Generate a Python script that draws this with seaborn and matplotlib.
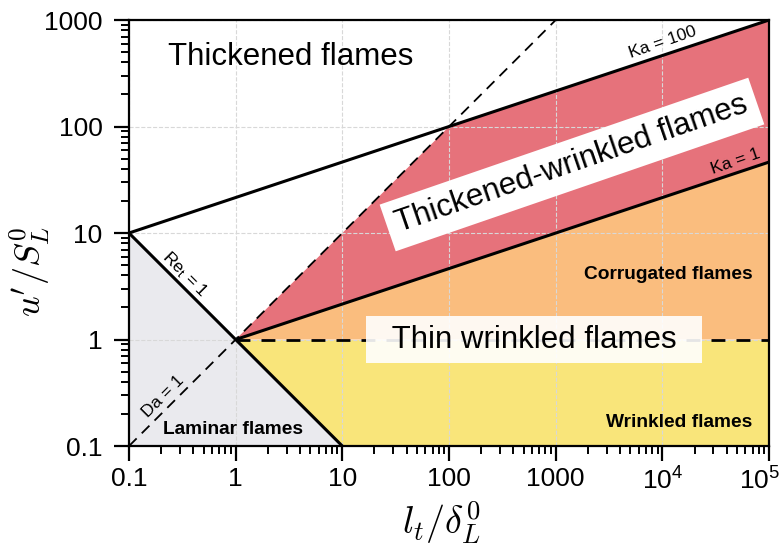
import matplotlib
matplotlib.use("Agg")
import matplotlib.pyplot as plt
import matplotlib.transforms as mtransforms
import seaborn as sns
from matplotlib.ticker import FixedLocator, FixedFormatter, NullFormatter

# boundary lines (l_t/delta_L, u'/S_L)
re1_x, re1_y = [0.1, 10], [10, 0.1]
ka100_x, ka100_y = [0.1, 1e5], [10, 1000]
ka1_x, ka1_y = [1, 1e5], [1, 46.4]
da1_x, da1_y = [0.1, 1000], [0.1, 1000]
unit_x, unit_y = [1, 1e5], [1, 1]

# regime regions (polygon corners)
laminar_x, laminar_y = [0.1, 0.1, 10], [0.1, 10, 0.1]
wrinkled_x, wrinkled_y = [1, 1e5, 1e5, 10], [1, 1, 0.1, 0.1]
corrugated_x, corrugated_y = [1, 1e5, 1e5], [1, 46.4, 1]
thick_wr_x, thick_wr_y = [1, 100, 1e5, 1e5], [1, 100, 1000, 46.4]

xticks = [0.1, 1, 10, 100, 1000, 1e4, 1e5]
xlabels = ['0.1', '1', '10', '100', '1000', r'$\mathregular{10^4}$', r'$\mathregular{10^5}$']
yticks = [0.1, 1, 10, 100, 1000]
ylabels = ['0.1', '1', '10', '100', '1000']

sns.set_style('white')
plt.rcParams['font.family'] = ['Liberation Sans', 'DejaVu Sans']
plt.rcParams['mathtext.fontset'] = 'cm'
plt.rcParams['text.color'] = 'black'
plt.rcParams['axes.labelcolor'] = 'black'

fig = plt.figure(figsize=(7.84, 5.48), dpi=100)
ax = fig.add_axes([0.1645, 0.186, 0.8165, 0.7775])
ax.set_xscale('log')
ax.set_yscale('log')

ax.fill(laminar_x, laminar_y, color='#eaeaee', lw=0)
ax.fill(wrinkled_x, wrinkled_y, color='#f9e57a', lw=0)
ax.fill(corrugated_x, corrugated_y, color='#fabd7e', lw=0)
ax.fill(thick_wr_x, thick_wr_y, color='#e6727b', lw=0)

for xs, ys in [(re1_x, re1_y), (ka100_x, ka100_y), (ka1_x, ka1_y)]:
    sns.lineplot(x=xs, y=ys, color='black', lw=2.2, ax=ax, sort=False)
sns.lineplot(x=da1_x, y=da1_y, color='black', lw=1.3, ax=ax, sort=False,
             linestyle=(0, (6, 4)))
sns.lineplot(x=unit_x, y=unit_y, color='black', lw=2, ax=ax, sort=False,
             linestyle=(0, (5, 4)))

ax.set_xlim(0.1, 1e5)
ax.set_ylim(0.1, 1000)
ax.set_axisbelow('line')
ax.grid(True, which='major', ls='--', color='#d8d8d8', lw=0.8)

ax.xaxis.set_major_locator(FixedLocator(xticks))
ax.xaxis.set_major_formatter(FixedFormatter(xlabels))
ax.yaxis.set_major_locator(FixedLocator(yticks))
ax.yaxis.set_major_formatter(FixedFormatter(ylabels))
ax.xaxis.set_minor_formatter(NullFormatter())
ax.yaxis.set_minor_formatter(NullFormatter())
ax.tick_params(which='major', direction='out', length=11, width=1.6,
               labelsize=19, bottom=True, left=True, colors='black')
ax.tick_params(which='minor', direction='out', length=6, width=1.4,
               bottom=True, left=True, colors='black')
ax.tick_params(axis='x', which='major', pad=4)
ax.tick_params(axis='y', which='major', pad=8)
for sp in ax.spines.values():
    sp.set_color('black')
    sp.set_linewidth(1.6)

# keep the last x label inside the figure, like the original
fig.canvas.draw()
last = ax.get_xticklabels()[-1]
last.set_transform(last.get_transform() +
                   mtransforms.ScaledTranslation(-7 / 72, 0, fig.dpi_scale_trans))

ax.set_xlabel(r"$l_t/\delta_L^0$", fontsize=27.5)
ax.set_ylabel(r"$u'/S_L^0$", fontsize=26)
ax.xaxis.set_label_coords(0.4875, -0.125)
ax.yaxis.set_label_coords(-0.12, 0.41)

ax.text(0.23, 450, 'Thickened flames', fontsize=22.5, va='center', ha='left')
ax.text(1420, 44, 'Thickened-wrinkled flames', fontsize=22.5, rotation=19,
        ha='center', va='center', rotation_mode='anchor',
        bbox=dict(facecolor='white', edgecolor='none', pad=7))
ax.text(630, 1, '  Thin wrinkled flames  ', fontsize=22.5, ha='center',
        va='center', bbox=dict(facecolor='white', edgecolor='none', pad=6, alpha=0.9))
ax.text(7e4, 4.1, 'Corrugated flames', fontsize=13.8, fontweight='bold',
        ha='right', va='center')
ax.text(7e4, 0.166, 'Wrinkled flames', fontsize=13.8, fontweight='bold',
        ha='right', va='center')
ax.text(0.945, 0.143, 'Laminar flames', fontsize=13.8, fontweight='bold',
        ha='center', va='center')
ax.text(1e4, 615, 'Ka = 100', fontsize=12.5, rotation=19,
        ha='center', va='center', rotation_mode='anchor')
ax.text(4.9e4, 47, 'Ka = 1', fontsize=12.5, rotation=19,
        ha='center', va='center', rotation_mode='anchor')
ax.text(0.33, 4.1, r'$\mathregular{Re_t}$ = 1', fontsize=12.5, rotation=-45,
        ha='center', va='center', rotation_mode='anchor')
ax.text(0.21, 0.29, 'Da = 1', fontsize=12.5, rotation=45,
        ha='center', va='center', rotation_mode='anchor')

fig.savefig('out.png', dpi=100)
